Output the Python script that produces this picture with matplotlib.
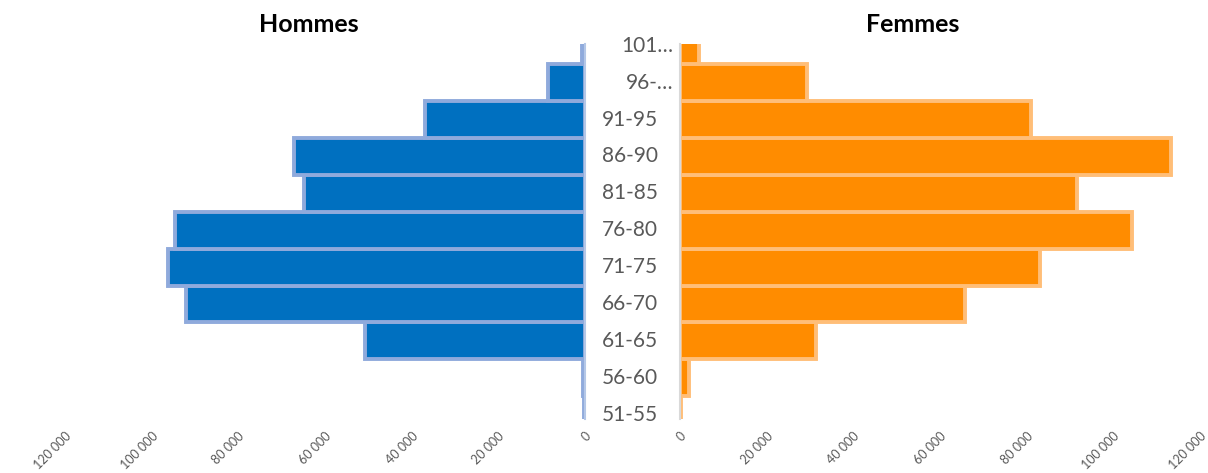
import matplotlib.pyplot as plt
from matplotlib.ticker import FuncFormatter

ages = ["51-55", "56-60", "61-65", "66-70", "71-75", "76-80",
        "81-85", "86-90", "91-95", "96-…", "101…"]
hommes = [300, 500, 50800, 92100, 96300, 94700, 64900, 67200, 37000, 8500, 700]
femmes = [300, 2100, 31400, 65800, 83100, 104400, 91700, 113400, 81000, 29300, 4400]
ticks = [0, 20000, 40000, 60000, 80000, 100000, 120000]

plt.rcParams['font.family'] = ['Lato', 'DejaVu Sans']

W, H = 1208, 473
fig = plt.figure(figsize=(W / 100, H / 100), dpi=100)
bottom, top = 1 - 419 / H, 1 - 44 / H
ax_h = fig.add_axes([65 / W, bottom, 520 / W, top - bottom])
ax_f = fig.add_axes([680 / W, bottom, 520 / W, top - bottom])

pos = range(len(ages))
ax_h.barh(pos, hommes, height=1.0, color="#0070C0", edgecolor="#8FAADC", linewidth=2.8)
ax_f.barh(pos, femmes, height=1.0, color="#FF8C00", edgecolor="#FFBE78", linewidth=2.8)

fmt = FuncFormatter(lambda v, p: f"{int(v):,}".replace(",", " "))
for ax in (ax_h, ax_f):
    ax.set_ylim(-0.12, 10.05)
    ax.set_yticks([])
    ax.set_xticks(ticks)
    ax.xaxis.set_major_formatter(fmt)
    ax.tick_params(axis="x", length=0, pad=8, labelsize=9, labelcolor="#595959")
    for lab in ax.get_xticklabels():
        lab.set_rotation(45)
        lab.set_ha("right")
        lab.set_va("top")
        lab.set_rotation_mode("anchor")
    for s in ax.spines.values():
        s.set_visible(False)

ax_h.set_xlim(120000, 0)
ax_f.set_xlim(0, 120000)
ax_h.spines["right"].set_visible(True)
ax_h.spines["right"].set_color("#B4C7E7")
ax_h.spines["right"].set_linewidth(1.5)
ax_f.spines["left"].set_visible(True)
ax_f.spines["left"].set_color("#D9D9D9")
ax_f.spines["left"].set_linewidth(1.5)

# age labels between the two halves
for i, lab in enumerate(ages):
    y = ax_f.transData.transform((0, i))[1]
    yf = fig.transFigure.inverted().transform((0, y))[1]
    if lab.endswith("…"):
        fig.text(673 / W, yf, lab, ha="right", va="center", fontsize=15, color="#595959")
    else:
        fig.text(630 / W, yf, lab, ha="center", va="center", fontsize=15, color="#595959")

fig.text(309 / W, 1 - 25 / H, "Hommes", ha="center", va="center", fontsize=18, fontweight="bold")
fig.text(913 / W, 1 - 25 / H, "Femmes", ha="center", va="center", fontsize=18, fontweight="bold")

fig.savefig("out.png", dpi=100)
